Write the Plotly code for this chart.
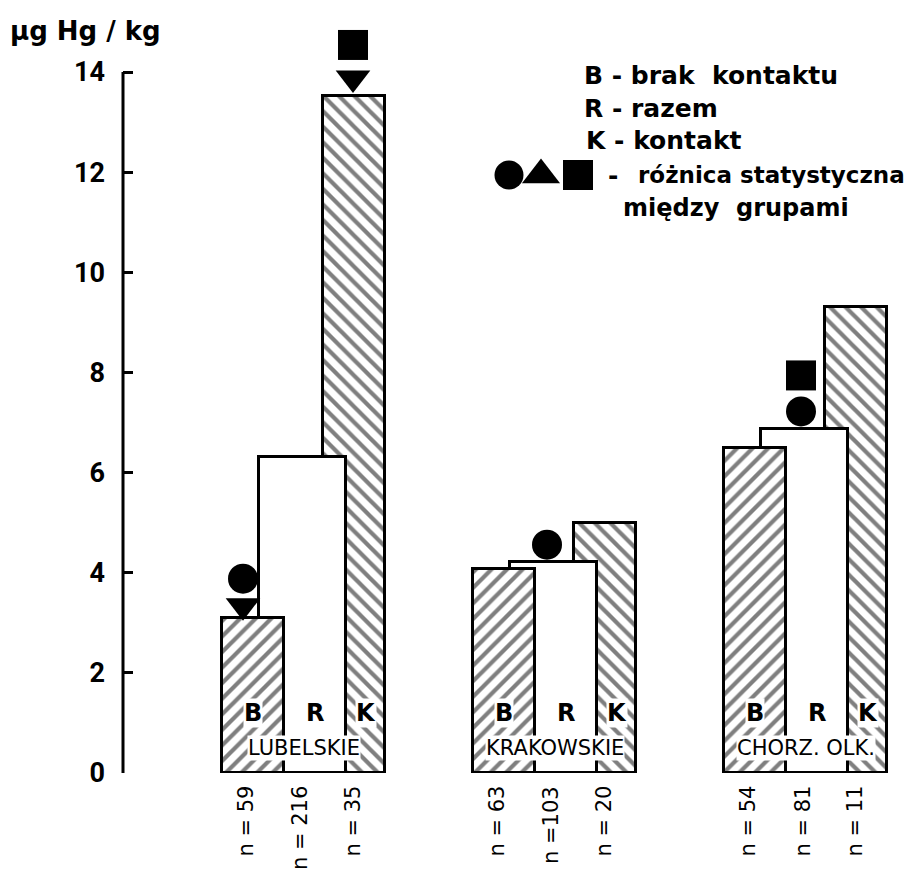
import plotly.graph_objects as go

# ---------------- data ----------------
groups = ["LUBELSKIE", "KRAKOWSKIE", "CHORZ. OLK."]
b_vals = [3.10, 4.08, 6.50]     # B - brak kontaktu
r_vals = [6.32, 4.22, 6.88]     # R - razem
k_vals = [13.52, 5.00, 9.30]    # K - kontakt
n_labels_b = ["n = 59", "n = 63", "n = 54"]
n_labels_r = ["n = 216", "n =103", "n = 81"]
n_labels_k = ["n = 35", "n = 20", "n = 11"]
y_ticks = [0, 2, 4, 6, 8, 10, 12, 14]

# significance marks (group index, offset inside group [px], height, symbol)
sig_group = [0, 0, 0, 0, 1, 2, 2]
sig_offset = [21, 21, 131, 131, 74, 77, 77]
sig_y = [3.88, 3.34, 14.54, 13.88, 4.56, 7.22, 7.94]
sig_symbol = ["circle", "triangle-down", "square", "triangle-down",
              "circle", "circle", "square"]

# ---------------- layout geometry (page pixels) ----------------
OFF = 8                                   # default page body margin
W, H = 917 - OFF, 874 - OFF
PL, PR, PT, PB = 123, 905, 20, 773        # plot area (page px)
Y14 = 72                                  # page px of value 14
PXU = (PB - Y14) / 14                     # px per y unit
YTOP = (PB - PT) / PXU                    # axis value at the plot-area top
G0, GAP = 222, 251                        # first group's left edge, group spacing

def u(px):
    return px / GAP

def xpx(px):
    return (px - G0) / GAP

def ppx(px, py):
    return (px - PL) / (PR - PL), (PB - py) / (PB - PT)

B_OFF, B_W = 31, 62
R_OFF, R_W = 80.5, 87
K_OFF, K_W = 132, 62

gx = list(range(len(groups)))
fig = go.Figure()

line = dict(color="black", width=3)
hatch = dict(fgcolor="black", bgcolor="white", size=11, solidity=0.38)
fig.add_trace(go.Bar(
    x=[g + u(K_OFF) for g in gx], y=k_vals, width=u(K_W),
    marker=dict(color="white", line=line, pattern=dict(shape="\\", **hatch)),
    cliponaxis=False, hoverinfo="skip"))
fig.add_trace(go.Bar(
    x=[g + u(R_OFF) for g in gx], y=r_vals, width=u(R_W),
    marker=dict(color="white", line=line),
    cliponaxis=False, hoverinfo="skip"))
fig.add_trace(go.Bar(
    x=[g + u(B_OFF) for g in gx], y=b_vals, width=u(B_W),
    marker=dict(color="white", line=line, pattern=dict(shape="/", **hatch)),
    cliponaxis=False, hoverinfo="skip"))

# significance markers
fig.add_trace(go.Scatter(
    x=[g + u(o) for g, o in zip(sig_group, sig_offset)], y=sig_y,
    mode="markers", hoverinfo="skip",
    marker=dict(symbol=sig_symbol, size=30, color="black", opacity=1,
                line=dict(width=0))))

# legend key markers (circle, triangle, square)
key_py = 175
fig.add_trace(go.Scatter(
    x=[xpx(509), xpx(541), xpx(578)], y=[(PB - key_py) / PXU] * 3,
    mode="markers", hoverinfo="skip",
    marker=dict(symbol=["circle", "triangle-up", "square"], size=[29, 33, 30],
                color="black", opacity=1, line=dict(width=0))))

# y axis line only from 0 to 14
shapes = [dict(type="line", xref="paper", yref="y", x0=0, x1=0, y0=0, y1=14,
               line=dict(color="black", width=3))]

ann = []
for g in gx:
    b_right = B_OFF + B_W / 2
    r_right = R_OFF + R_W / 2
    k_right = K_OFF + K_W / 2
    for txt, off in (("B", B_OFF), ("R", (b_right + r_right) / 2),
                     ("K", (r_right + k_right) / 2)):
        ann.append(dict(x=g + u(off), y=1.2, text=f"<b>{txt}</b>", showarrow=False,
                        font=dict(family="DejaVu Sans", size=24, color="black"),
                        bgcolor="white", borderpad=0))
    ann.append(dict(x=g + u((B_OFF - B_W / 2 + k_right) / 2), y=0.5, text=groups[g],
                    showarrow=False, bgcolor="white", borderpad=0,
                    font=dict(family="DejaVu Sans", size=21, color="black")))
    for txt, off in ((n_labels_b[g], 23), (n_labels_r[g], 78), (n_labels_k[g], 130)):
        ann.append(dict(x=g + u(off), xref="x", y=-(784 - PB) / (PB - PT), yref="paper",
                        yanchor="top", text=txt, textangle=-90, showarrow=False,
                        font=dict(family="DejaVu Sans", size=21, color="black")))

legend_lines = [
    ("B - brak  kontaktu", 582, 75, 25),
    ("R - razem", 582, 108, 25),
    ("K - kontakt", 584, 141, 25),
    ("-", 606, 175, 25),
    ("różnica statystyczna", 636, 175, 23),
    ("między  grupami", 621, 208, 24),
    ("µg Hg / kg", 8, 31, 26),
]
for txt, px, py, fs in legend_lines:
    xp, yp = ppx(px, py)
    ann.append(dict(x=xp, y=yp, xref="paper", yref="paper", xanchor="left",
                    yanchor="middle", text=f"<b>{txt}</b>", showarrow=False,
                    font=dict(family="DejaVu Sans", size=fs, color="black")))

fig.update_layout(
    width=W, height=H,
    margin=dict(l=PL - OFF, r=W - (PR - OFF), t=PT - OFF, b=H - (PB - OFF), pad=0,
                autoexpand=False),
    paper_bgcolor="white", plot_bgcolor="white",
    barmode="overlay", bargap=0, showlegend=False,
    xaxis=dict(range=[xpx(PL), xpx(PR)], visible=False, fixedrange=True),
    yaxis=dict(range=[0, YTOP], tickvals=y_ticks, ticktext=[str(v) for v in y_ticks],
               showgrid=False, zeroline=False, showline=False,
               ticks="inside", ticklen=10, tickwidth=2.5,
               tickcolor="black", ticklabelstandoff=17, fixedrange=True,
               tickfont=dict(family="Roboto", size=27, color="black", weight="bold")),
    shapes=shapes,
    annotations=ann,
)

fig.write_html("out.html")
